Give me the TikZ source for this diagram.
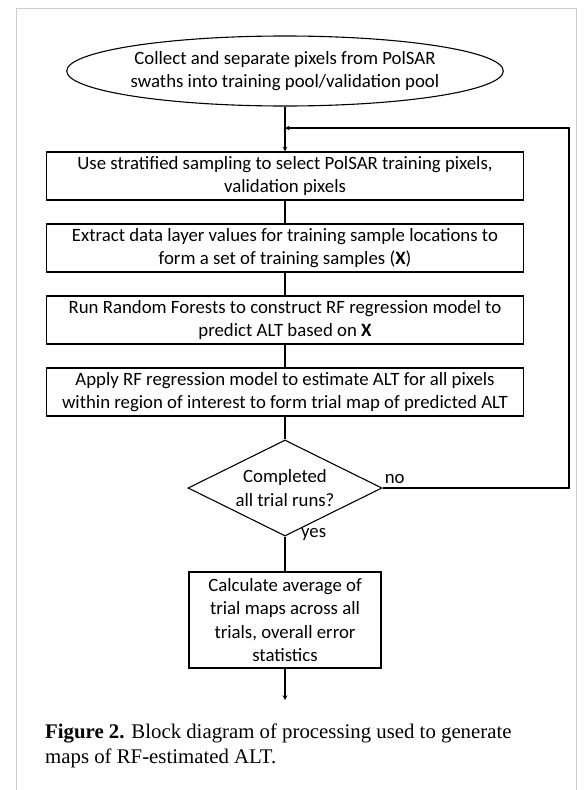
\documentclass[tikz,border=0pt]{standalone}
\usepackage{fontspec}
\setmainfont{Carlito}
\newfontfamily\capfont{Liberation Serif}
\usetikzlibrary{shapes.geometric}

\begin{document}
\begin{tikzpicture}[>=stealth,x=1pt,y=-1pt,
  every node/.style={font=\fontsize{18.8}{23.5}\selectfont},
  box/.style={draw,line width=1.1pt,rectangle,align=center,inner sep=0pt,
    minimum width=477pt,minimum height=48pt},
  term/.style={draw,line width=1.1pt,ellipse,align=center,inner sep=0pt,
    minimum width=388pt,minimum height=70pt},
  decision/.style={draw,line width=1.1pt,diamond,aspect=2,align=center,
    inner sep=0pt,minimum width=194pt,minimum height=96pt},
  flow/.style={line width=1.1pt}]
  \useasboundingbox (0,0) rectangle (584,790);

  % page frame
  \draw[gray!40,line width=1pt] (16,800) -- (16,8) -- (576,8) -- (576,800);

  \coordinate (join) at (285,128);
  \coordinate (loop) at (569,488);
  \coordinate (out) at (285,700);

  % steps
  \node[term] (collect) at (285,71) {Collect and separate pixels from PolSAR\\swaths into training pool/validation pool};
  \node[box] (sample) at (285,176) {Use stratified sampling to select PolSAR training pixels,\\validation pixels};
  \node[box] (extract) at (285,248) {Extract data layer values for training sample locations to\\form a set of training samples ({\bfseries X})};
  \node[box] (runrf) at (285,320) {Run Random Forests to construct RF regression model to\\predict ALT based on {\bfseries X}};
  \node[box] (apply) at (285,392) {Apply RF regression model to estimate ALT for all pixels\\within region of interest to form trial map of predicted ALT};
  \node[decision] (done) at (285,488) {Completed\\all trial runs?};
  \node[box,minimum width=192pt,minimum height=96pt] (average) at (285,620) {Calculate average of\\trial maps across all\\trials, overall error\\statistics};

  % connectors
  \draw[flow,->] (collect) -- (sample);
  \draw[flow] (sample) -- (extract);
  \draw[flow] (extract) -- (runrf);
  \draw[flow] (runrf) -- (apply);
  \draw[flow] (apply) -- (done);
  \draw[flow] (done) -- (average);
  \draw[flow,->] (done.east) -- (loop) |- (join);
  \draw[flow,->] (average) -- (out);
  \node[anchor=south west,inner sep=2pt] (no) at ([yshift=2pt]done.east) {no};
  \node[anchor=west,inner sep=0pt] (yes) at ([xshift=16pt,yshift=2pt]done.south) {yes};

  % caption
  \node[anchor=north west,align=left,inner sep=0pt,
    font=\capfont\fontsize{20.8}{25}\selectfont] (caption) at (45,724)
    {\textbf{Figure 2.} Block diagram of processing used to generate\\maps of RF-estimated ALT.};
\end{tikzpicture}
\end{document}
